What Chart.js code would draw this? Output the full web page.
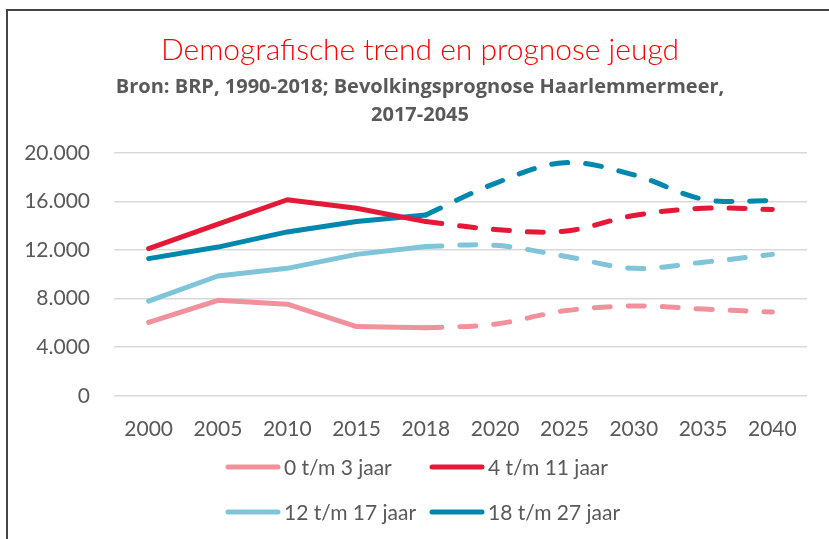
<!DOCTYPE html>
<html>
<head>
<meta charset="utf-8">
<script src="https://cdn.jsdelivr.net/npm/chart.js@4/dist/chart.umd.min.js"></script>
<style>
  html, body { margin: 0; padding: 0; background: #fff; }
  #wrap { position: relative; width: 829px; height: 539px; overflow: hidden; }
  #frame { position: absolute; left: 6px; top: 9px; width: 900px; height: 600px;
           border-left: 2px solid #444; border-top: 2px solid #444; pointer-events: none; }
  canvas { position: absolute; left: 0; top: 0; }
</style>
</head>
<body>
<div id="wrap">
  <canvas id="chart" width="829" height="539"></canvas>
  <div id="frame"></div>
</div>
<script>
const years = ['2000', '2005', '2010', '2015', '2018', '2020', '2025', '2030', '2035', '2040'];
const lastMeasured = 4; // 2018: after this the lines are forecast (dashed)

const age0to3 = [6050, 7870, 7550, 5700, 5600, 5900, 7000, 7400, 7150, 6900];
const age4to11 = [12130, 14150, 16150, 15450, 14350, 13700, 13550, 14850, 15450, 15350];
const age12to17 = [7800, 9870, 10500, 11650, 12300, 12400, 11500, 10500, 11000, 11650];
const age18to27 = [11300, 12250, 13500, 14350, 14900, 17500, 19200, 18200, 16200, 16050];

const seriesLabels = ['0 t/m 3 jaar', '4 t/m 11 jaar', '12 t/m 17 jaar', '18 t/m 27 jaar'];
const seriesColors = ['#F1919C', '#E31937', '#7FC4D8', '#0087AD'];
const seriesValues = [age0to3, age4to11, age12to17, age18to27];

const FONT = 'Lato, "Open Sans", sans-serif';
const GREY = '#595959';

const datasets = [];
seriesValues.forEach((vals, s) => {
  datasets.push({
    label: seriesLabels[s],
    data: vals.map((v, i) => i <= lastMeasured ? v : null),
    borderColor: seriesColors[s],
    borderWidth: 5,
    tension: 0,
    borderCapStyle: 'round',
    borderJoinStyle: 'round',
    pointRadius: 0,
    spanGaps: false
  });
  datasets.push({
    label: seriesLabels[s] + ' (prognose)',
    data: vals.map((v, i) => i >= lastMeasured ? v : null),
    borderColor: seriesColors[s],
    borderWidth: 5,
    borderDash: [16, 18],
    tension: 0.35,
    borderCapStyle: 'round',
    borderJoinStyle: 'round',
    pointRadius: 0,
    spanGaps: false
  });
});

// legend in two rows of two, like the original
const twoRowLegend = {
  id: 'twoRowLegend',
  afterLayout(chart) {
    // let the y tick labels use the space left of the padding (no clipping)
    chart.scales.y.left = 0;
  },
  afterDraw(chart) {
    const ctx = chart.ctx;
    const cols = [226, 430];
    const rows = [467, 512];
    ctx.save();
    ctx.font = '21px ' + FONT;
    ctx.textBaseline = 'middle';
    ctx.textAlign = 'left';
    seriesLabels.forEach((lab, i) => {
      const x = cols[i % 2];
      const y = rows[Math.floor(i / 2)];
      ctx.strokeStyle = seriesColors[i];
      ctx.lineWidth = 5;
      ctx.lineCap = 'round';
      ctx.beginPath();
      ctx.moveTo(x + 2, y);
      ctx.lineTo(x + 52, y);
      ctx.stroke();
      ctx.fillStyle = GREY;
      ctx.fillText(lab, x + 58, y + 1);
    });
    ctx.restore();
  }
};

new Chart(document.getElementById('chart'), {
  type: 'line',
  data: { labels: years, datasets: datasets },
  plugins: [twoRowLegend],
  options: {
    responsive: false,
    animation: false,
    layout: { padding: { left: 33, right: 22, top: 0, bottom: 76 } },
    plugins: {
      legend: { display: false },
      tooltip: { enabled: false },
      title: {
        display: true,
        text: 'Demografische trend en prognose jeugd',
        color: '#FF0000',
        font: { family: FONT, size: 30, weight: 300, lineHeight: 1.2 },
        padding: { top: 32, bottom: 3 }
      },
      subtitle: {
        display: true,
        text: ['Bron: BRP, 1990-2018; Bevolkingsprognose Haarlemmermeer,', '2017-2045'],
        color: GREY,
        font: { family: '"Open Sans", Lato, sans-serif', size: 20, weight: 'bold', lineHeight: 1.4 },
        padding: { top: 2, bottom: 24 }
      }
    },
    scales: {
      x: {
        offset: true,
        grid: { display: false, drawTicks: false },
        border: { display: false },
        ticks: { color: GREY, font: { family: FONT, size: 21 }, padding: 21, maxRotation: 0 }
      },
      y: {
        min: 0,
        max: 20000,
        grid: { color: '#D9D9D9', lineWidth: 1.5, drawTicks: false },
        border: { display: false },
        afterFit(scale) { scale.width = 81; },
        ticks: {
          stepSize: 4000,
          color: GREY,
          padding: 24,
          font: { family: FONT, size: 21 },
          callback: v => String(v).replace(/\B(?=(\d{3})+(?!\d))/g, '.')
        }
      }
    }
  }
});
</script>
</body>
</html>
